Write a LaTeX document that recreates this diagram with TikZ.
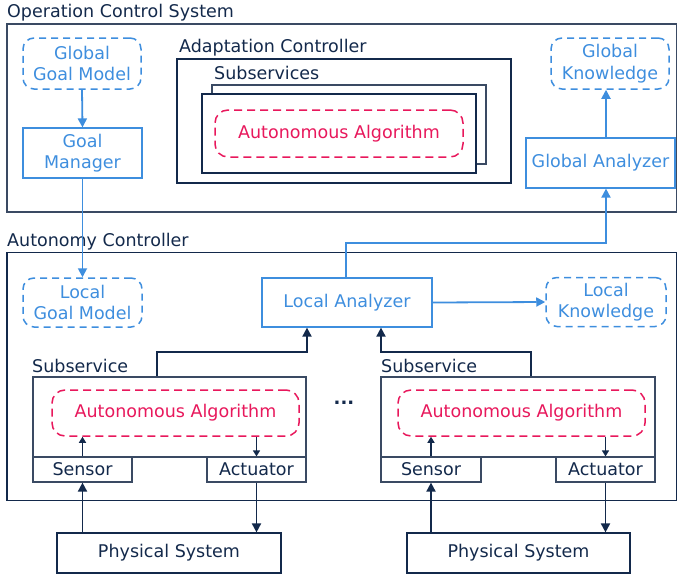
\documentclass[tikz,border=0pt]{standalone}
\usepackage{fontspec}
\setmainfont{DejaVu Sans}
\usetikzlibrary{arrows.meta,calc}
\definecolor{navy}{HTML}{13294B}
\definecolor{slate}{HTML}{3A4A63}
\definecolor{cblue}{HTML}{3E8EDE}
\definecolor{cred}{HTML}{E8185C}
\tikzset{
  lbl/.style={anchor=base west, inner sep=0, text=navy},
  nbox/.style={draw=navy, line width=1.2pt, rectangle, inner sep=0, text=navy, align=center},
  sbox/.style={draw=slate, line width=1.2pt, rectangle, inner sep=0, text=navy, align=center, fill=white},
  bbox/.style={draw=cblue, line width=1.2pt, rectangle, inner sep=0, text=cblue, align=center},
  bdash/.style={draw=cblue, line width=1.5pt, rounded corners=11pt, dash pattern=on 7pt off 5pt, inner sep=0, text=cblue, align=center},
  rdash/.style={draw=cred, line width=1.5pt, rounded corners=13pt, dash pattern=on 8pt off 5pt, inner sep=0, text=cred, align=center},
  barr/.style={draw=cblue, line width=1.8pt, -{Triangle[length=9pt,width=9pt]}},
  narr/.style={draw=navy, line width=1.8pt, -{Triangle[length=9pt,width=9pt]}},
  nsarr/.style={draw=navy, line width=1.3pt, -{Triangle[length=6pt,width=7pt]}},
}
\begin{document}
\begin{tikzpicture}[x=1pt,y=-1pt, font=\fontsize{17.5}{21.5}\selectfont]
\useasboundingbox (0,0) rectangle (677,576);
% Operation Control System
\node[lbl] (tocs) at (7,17) {Operation Control System};
\draw[draw=slate, line width=1.2pt] (7,24) rectangle (676.4,212);
\node[bdash, minimum width=118pt, minimum height=51pt] (ggm) at (82,63.5) {Global\\Goal Model};
\node[bbox, minimum width=119pt, minimum height=50pt] (gm) at (82.5,153) {Goal\\Manager};
\node[bdash, minimum width=118pt, minimum height=51pt] (gk) at (610,63.5) {Global\\Knowledge};
\node[bbox, minimum width=149pt, minimum height=50pt] (ga) at (600.5,163) {Global Analyzer};
% Adaptation controller
\node[lbl] (tac) at (179,52) {Adaptation Controller};
\draw[draw=navy, line width=1.2pt] (177,59) rectangle (511,183);
\node[lbl] (tss) at (214,79) {Subservices};
\draw[draw=slate, line width=1.2pt, fill=white] (212,85) rectangle (486,164);
\draw[draw=navy, line width=1.2pt, fill=white] (202,94) rectangle (476,173);
\node[rdash, minimum width=248pt, minimum height=47pt] (aat) at (339,133.5) {Autonomous Algorithm};
% Autonomy controller
\node[lbl] (tauc) at (7,246) {Autonomy Controller};
\draw[draw=navy, line width=1.2pt] (7,252.5) rectangle (676.4,500.5);
\node[bdash, minimum width=119pt, minimum height=49pt] (lgm) at (82.5,302.5) {Local\\Goal Model};
\node[bbox, minimum width=170pt, minimum height=49pt] (la) at (347,302.5) {Local Analyzer};
\node[bdash, minimum width=120pt, minimum height=49pt] (lk) at (606,302) {Local\\Knowledge};
% left subservice
\node[lbl] (tsl) at (32,372) {Subservice};
\node[sbox, minimum width=273pt, minimum height=80pt] (subl) at (169.5,417) {};
\node[rdash, minimum width=247pt, minimum height=46pt] (aal) at (175.5,413) {Autonomous Algorithm};
\node[sbox, minimum width=99pt, minimum height=25pt] (senl) at (82.5,469.5) {Sensor};
\node[sbox, minimum width=99pt, minimum height=25pt] (actl) at (256.5,469.5) {Actuator};
\node[nbox, minimum width=224pt, minimum height=40pt] (psl) at (169,553) {Physical System};
% right subservice
\node[lbl] (tsr) at (381,372) {Subservice};
\node[sbox, minimum width=274pt, minimum height=80pt] (subr) at (518,417) {};
\node[rdash, minimum width=247pt, minimum height=46pt] (aar) at (521.5,413) {Autonomous Algorithm};
\node[sbox, minimum width=100pt, minimum height=25pt] (senr) at (431,469.5) {Sensor};
\node[sbox, minimum width=99pt, minimum height=25pt] (actr) at (605.5,469.5) {Actuator};
\node[nbox, minimum width=223pt, minimum height=40pt] (psr) at (518.5,553) {Physical System};
\node[text=navy, font=\fontsize{18}{20}\bfseries] (dots) at (344,403) {...};
% blue connectors
\draw[barr] (ggm.south) -- (gm.north);
\draw[barr] (gm.south) -- (lgm.north);
\draw[barr] (ga.north -| gk.south) ++(-4,0) coordinate (gaup) -- (gaup |- gk.south);
\coordinate (c1) at (346,243);
\coordinate (c2) at (606,243);
\draw[barr] (la.north -| c1) -- (c1) -- (c2) -- (c2 |- ga.south);
\draw[barr] (la.east) -- (lk.west);
% navy connectors
\coordinate (l1) at (157,352);
\coordinate (l2) at (307,352);
\draw[narr] (subl.north -| l1) -- (l1) -- (l2) -- (l2 |- la.south);
\coordinate (r1) at (531,352);
\coordinate (r2) at (381,352);
\draw[narr] (subr.north -| r1) -- (r1) -- (r2) -- (r2 |- la.south);
\draw[nsarr] (senl.north) -- (senl.north |- aal.south);
\draw[nsarr] (aal.south -| actl.north) -- (actl.north);
\draw[narr] (actl.south) -- (actl.south |- psl.north);
\draw[narr] (psl.north -| senl.south) -- (senl.south);
\draw[nsarr] (senr.north) -- (senr.north |- aar.south);
\draw[nsarr] (aar.south -| actr.north) -- (actr.north);
\draw[narr] (actr.south) -- (actr.south |- psr.north);
\draw[narr] (psr.north -| senr.south) -- (senr.south);
\end{tikzpicture}
\end{document}
